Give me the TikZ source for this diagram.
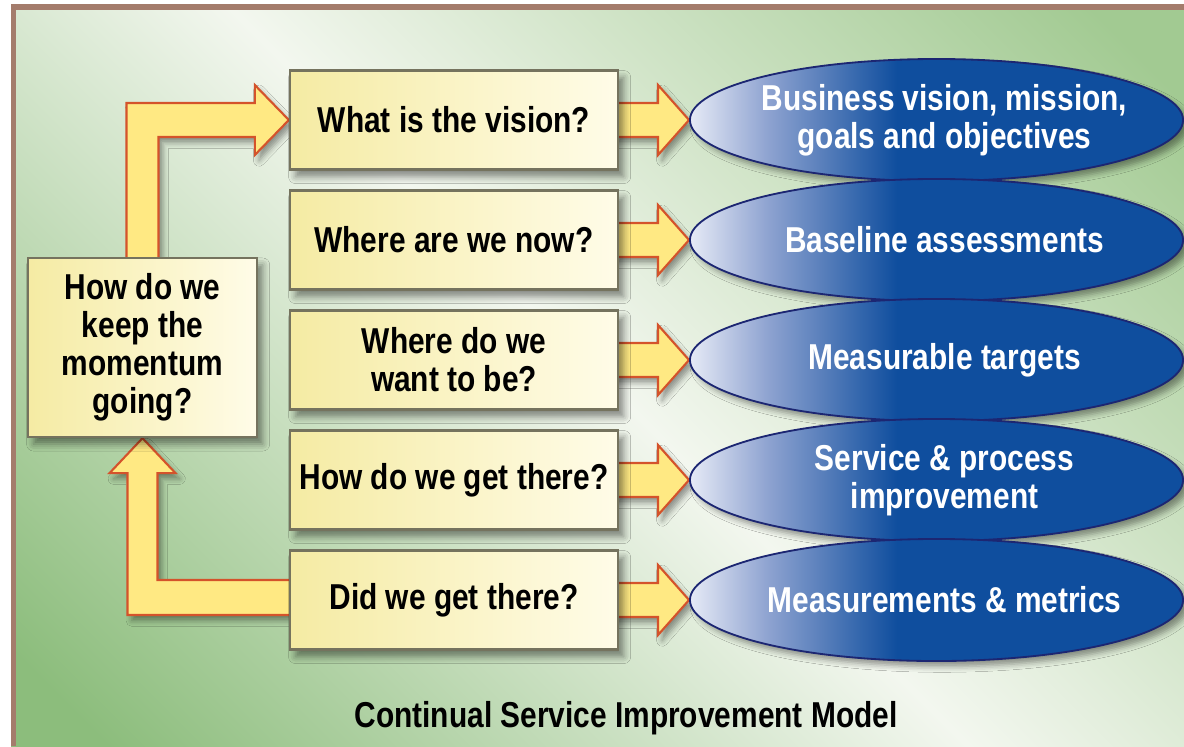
\documentclass[tikz,border=0pt]{standalone}
\usepackage{fontspec}
\setmainfont{Liberation Sans}[FakeStretch=0.83]
\usetikzlibrary{calc,shapes.geometric,shadows.blur,backgrounds}

\definecolor{bgdeep}{HTML}{8CBD7C}
\definecolor{bgmid}{HTML}{A2CA92}
\definecolor{bglight}{HTML}{F3F7EF}
\definecolor{framebrown}{HTML}{A47C6C}
\definecolor{qyellow}{HTML}{F5EBA3}
\definecolor{qpale}{HTML}{FFFCE8}
\definecolor{qline}{HTML}{75735E}
\definecolor{arrfill}{HTML}{FFE983}
\definecolor{arrline}{HTML}{D4532B}
\definecolor{ovlight}{HTML}{E6EAF6}
\definecolor{ovmid}{HTML}{8DA2D0}
\definecolor{ovblue}{HTML}{0F4E9E}
\definecolor{ovline}{HTML}{1C2672}

\pgfdeclarehorizontalshading{bgband}{100bp}{color(0bp)=(bgdeep); color(18bp)=(bgdeep); color(50bp)=(bglight); color(82bp)=(bgmid); color(100bp)=(bgmid)}
\pgfdeclarehorizontalshading{ovalshade}{100bp}{color(0bp)=(ovlight); color(25bp)=(ovlight); color(33bp)=(ovmid); color(46bp)=(ovblue); color(100bp)=(ovblue)}

\tikzset{
	txt/.style={font=\fontsize{25.6}{27}\selectfont\bfseries, align=center},
	qbox/.style={txt, draw=qline, line width=1.6pt, left color=qyellow, right color=qpale,
		minimum width=8.2cm, minimum height=2.475cm, inner sep=0pt,
		blur shadow={shadow xshift=4pt, shadow yshift=-5pt, shadow blur radius=5pt, shadow opacity=45}},
	oval/.style={ellipse, draw=ovline, line width=1.3pt, shade, shading=ovalshade,
		minimum width=12.325cm, minimum height=3.05cm, inner sep=0pt,
		blur shadow={shadow xshift=4pt, shadow yshift=-4pt, shadow blur radius=4pt, shadow opacity=40}},
	ovtxt/.style={txt, text=white},
	arr/.style={draw=arrline, line width=1.5pt, fill=arrfill,
		blur shadow={shadow xshift=3pt, shadow yshift=-4pt, shadow blur radius=4pt, shadow opacity=40}},
}

% fat arrow from a question box to its oval
\newcommand{\blockarrow}[2]{%
	\draw[arr] ($(#1.east)+(-6,-17)$) -- ($(#2.west)+(-31,-17)$) -- ($(#2.west)+(-31,-35)$) -- (#2.west)
		-- ($(#2.west)+(-31,35)$) -- ($(#2.west)+(-31,17)$) -- ($(#1.east)+(-6,17)$) -- cycle;}

\begin{document}
\begin{tikzpicture}[x=0.025cm, y=-0.025cm]
	\useasboundingbox (0,0) rectangle (1184,746);

	% questions
	\node[qbox] (q1) at (454,120) {What is the vision?};
	\node[qbox] (q2) at (454,240) {Where are we now?};
	\node[qbox] (q3) at (454,360) {Where do we\\want to be?};
	\node[qbox] (q4) at (454,480) {How do we get there?};
	\node[qbox] (q5) at (454,600) {Did we get there?};
	\node[qbox, minimum width=5.725cm, minimum height=4.475cm] (keep) at (142.5,347.5) {How do we\\keep the\\momentum\\going?};

	% answers
	\node[oval] (o1) at (936.5,120) {};
	\node[oval] (o2) at (936.5,240) {};
	\node[oval] (o3) at (936.5,360) {};
	\node[oval] (o4) at (936.5,480) {};
	\node[oval] (o5) at (936.5,600) {};
	\node[ovtxt] (a1) at ($(o1)+(8,0)$) {Business vision, mission,\\goals and objectives};
	\node[ovtxt] (a2) at ($(o2)+(8,0)$) {Baseline assessments};
	\node[ovtxt] (a3) at ($(o3)+(8,0)$) {Measurable targets};
	\node[ovtxt] (a4) at ($(o4)+(8,0)$) {Service \& process\\improvement};
	\node[ovtxt] (a5) at ($(o5)+(8,0)$) {Measurements \& metrics};

	\node[txt, anchor=base] (title) at (626,727) {Continual Service Improvement Model};

	\begin{scope}[on background layer]
		\shade[shading=bgband, shading angle=45] (11,4) rectangle (1184,746);
		\draw[framebrown, line width=4pt] (13.5,746) -- (13.5,7) -- (1184,7);

		\blockarrow{q1}{o1}
		\blockarrow{q2}{o2}
		\blockarrow{q3}{o3}
		\blockarrow{q4}{o4}
		\blockarrow{q5}{o5}

		% loop back round the left
		\draw[arr] ($(keep.north)+(-16,6)$) -- ($(keep.north |- q1.west)+(-16,-17)$) -- ($(q1.west)+(-34,-17)$)
			-- ($(q1.west)+(-34,-35)$) -- (q1.west) -- ($(q1.west)+(-34,35)$) -- ($(q1.west)+(-34,17)$)
			-- ($(keep.north |- q1.west)+(16,17)$) -- ($(keep.north)+(16,6)$) -- cycle;
		\draw[arr] ($(q5.west)+(6,-20)$) -- ($(keep.south |- q5.west)+(15,-20)$) -- ($(keep.south)+(15,35)$)
			-- ($(keep.south)+(33,35)$) -- (keep.south) -- ($(keep.south)+(-33,35)$) -- ($(keep.south)+(-15,35)$)
			-- ($(keep.south |- q5.west)+(-15,15)$) -- ($(q5.west)+(6,15)$) -- cycle;
	\end{scope}
\end{tikzpicture}
\end{document}
